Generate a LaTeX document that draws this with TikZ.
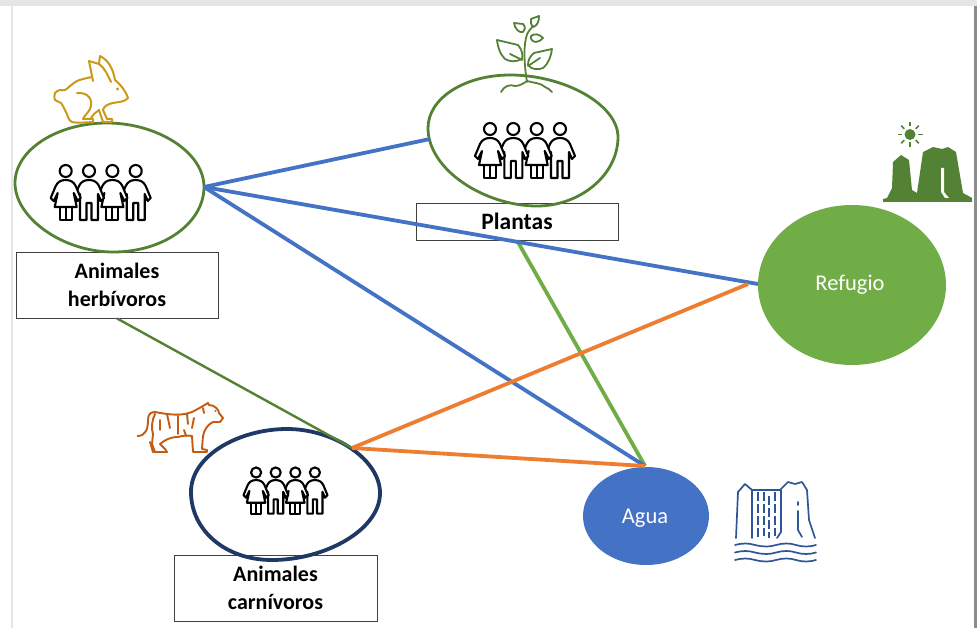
\documentclass[tikz,border=0pt]{standalone}
\usepackage{fontspec}
\setmainfont{Carlito}
\usetikzlibrary{shapes.geometric}
\definecolor{dgreen}{HTML}{548235}
\definecolor{lgreen}{HTML}{70AD47}
\definecolor{mblue}{HTML}{4472C4}
\definecolor{orng}{HTML}{ED7D31}
\definecolor{navy}{HTML}{1F3864}
\definecolor{gold}{HTML}{C99A1A}
\definecolor{tigc}{HTML}{C55A11}
\definecolor{wfall}{HTML}{2F5597}
\tikzset{
  x=1pt,y=-1pt,
  label box/.style={draw=black!75,line width=0.9pt,fill=white,minimum width=202pt,align=center,font=\fontsize{22}{28}\selectfont\bfseries,inner sep=0pt},
  disc/.style={ellipse,inner sep=0pt,text=white,font=\fontsize{22.5}{24}\selectfont},
  blob/.style={line width=2.8pt,draw=dgreen},
  link/.style={line width=3.8pt},
  person/.style={draw=black,line width=2.1pt,line join=round,fill=white},
  icon/.style={line width=2pt,line join=round,line cap=round},
  pics/crowd/.style={code={
    \foreach \k/\xx in {3/35,2/11.7,1/-11.7,0/-35}{
      \begin{scope}[xshift=\xx pt]
        \path[person] (0,0) circle[radius=6];
        \ifodd\k
          \path[person] (0,9) .. controls (5,9) and (8,11) .. (10,15) -- (15,27) -- (12,30) -- (9,23) -- (9,49) -- (2.5,49) -- (2.5,32) -- (-2.5,32) -- (-2.5,49) -- (-9,49) -- (-9,23) -- (-12,30) -- (-15,27) -- (-10,15) .. controls (-8,11) and (-5,9) .. (0,9) -- cycle;
        \else
          \path[person] (-6,36) -- (-6,49) -- (6,49) -- (6,36) -- cycle;
          \draw[person] (0,36) -- (0,49);
          \path[person] (0,9) .. controls (5,9) and (8,11) .. (10,15) -- (15,27) -- (12,30) -- (8,22) -- (11,36) -- (-11,36) -- (-8,22) -- (-12,30) -- (-15,27) -- (-10,15) .. controls (-8,11) and (-5,9) .. (0,9) -- cycle;
        \fi
      \end{scope}
    }
  }},
}
\begin{document}
\begin{tikzpicture}
\useasboundingbox (0,0) rectangle (977,628);
% page shadow
\fill[black!45] (974,0) rectangle (977,628);
\fill[black!10] (11,0) rectangle (13,628);
\fill[white] (0,0) rectangle (11,628);
\fill[black!10] (0,0) rectangle (977,6);

% anchor points of the hand-drawn shapes
\coordinate (herbE) at (204,187);
\coordinate (plantW) at (430,139);
\coordinate (carnNE) at (352,448);
\coordinate (refW) at (758,284);
\coordinate (refWo) at (748,284);
\coordinate (aguaN) at (645,466);

% label boxes
\node[label box,minimum height=66pt] (herbL) at (117,285) {Animales\\herbívoros};
\node[label box,minimum height=37pt,font=\fontsize{23.5}{28}\selectfont\bfseries] (plantL) at (517,221.5) {Plantas};
\node[label box,minimum height=66pt,minimum width=203pt] (carnL) at (275.5,588) {Animales\\carnívoros};

% filled discs
\node[disc,fill=lgreen,minimum width=188pt,minimum height=160pt] (ref) at (852,285) {};
\node[disc,fill=mblue,minimum width=126pt,minimum height=98pt] (agua) at (646,516) {};
\node[disc] (refT) at (850,285) {Refugio};
\node[disc] (aguaT) at (645,518) {Agua};

% hand-drawn outlines
\draw[blob] (15,183) .. controls (15,150) and (57,123) .. (107,123) .. controls (157,123) and (204,152) .. (204,187) .. controls (204,222) and (165,252) .. (113,252) .. controls (63,252) and (15,218) .. (15,183) -- cycle;
\draw[blob] (428,128) .. controls (428,98) and (465,75) .. (510,75) .. controls (565,75) and (618,105) .. (618,137) .. controls (618,175) and (580,206) .. (537,206) .. controls (485,206) and (428,170) .. (428,128) -- cycle;
\draw[line width=3.8pt,draw=navy] (191,492) .. controls (191,455) and (240,429) .. (287,429) .. controls (335,429) and (380,460) .. (380,493) .. controls (380,530) and (325,560) .. (272,560) .. controls (225,560) and (191,530) .. (191,492) -- cycle;

% crowds
\pic at (100.7,171) {crowd};
\pic at (525,129) {crowd};
\pic[scale=0.84] at (285.5,472.5) {crowd};

% connectors
\draw[line width=2.4pt,draw=dgreen] (herbL.south) -- (carnNE);
\draw[link,draw=lgreen] (plantL.south) -- (aguaN);
\draw[link,draw=mblue] (herbE) -- (plantW);
\draw[link,draw=mblue] (herbE) -- (refW);
\draw[link,draw=mblue] (herbE) -- (aguaN);
\draw[link,draw=orng] (carnNE) -- (refWo);
\draw[link,draw=orng] (carnNE) -- (aguaN);

% rabbit
\draw[icon,draw=gold] plot[smooth,tension=0.5] coordinates {(93,122) (72,122) (66,112) (61,103) (55,100) (55,93) (60,90) (65,90) (77,81) (92,77)};
\draw[icon,draw=gold] (93,81) -- (89,61) -- (99,64) .. controls (105,68) and (108,76) .. (111,82);
\draw[icon,draw=gold] (99,64) -- (100,56) .. controls (108,60) and (113,68) .. (115,80) .. controls (121,85) and (125,90) .. (128,98) .. controls (125,102) and (118,102) .. (113,103) .. controls (108,104) and (104,106) .. (103,110) -- (107,119) -- (112,119) -- (112,122) -- (103,122) -- (99,110) -- (94,114) -- (91,118);
\draw[icon,draw=gold] (77,93) .. controls (88,92) and (94,100) .. (90,109) .. controls (88,113) and (84,116) .. (83,119) -- (93,119) -- (93,122);
\fill[gold] (117.5,89) circle[radius=1.6];

% plant
\begin{scope}[icon,draw=dgreen,line width=1.8pt]
\draw (527,82) .. controls (525,70) and (523,50) .. (526,38) .. controls (527,32) and (530,30) .. (533,26);
\draw (497,40) -- (518,45) .. controls (522,50) and (523,54) .. (522,59) .. controls (516,62) and (510,62) .. (505,59) .. controls (500,54) and (498,48) .. (497,40) -- cycle;
\draw (552,49) -- (534,53) .. controls (530,56) and (528,60) .. (528,65) .. controls (532,70) and (538,70) .. (543,68) .. controls (549,63) and (551,56) .. (552,49) -- cycle;
\draw (539,16) -- (531,19) .. controls (530,22) and (531,25) .. (533,27) .. controls (537,26) and (539,22) .. (539,16) -- cycle;
\draw (514,23) -- (523,24) .. controls (526,27) and (525,30) .. (523,32) .. controls (519,33) and (515,29) .. (514,23) -- cycle;
\draw (543,38) .. controls (539,34) and (535,33) .. (531,36) .. controls (530,38) and (532,42) .. (536,42) .. controls (539,42) and (541,40) .. (543,38) -- cycle;
\draw (510,54) -- (522,60);
\draw (528,66) -- (540,58);
\draw (501,92) .. controls (504,86) and (510,84) .. (515,86) .. controls (520,86) and (524,83) .. (527,81) .. controls (534,83) and (541,83) .. (545,87) .. controls (548,88) and (550,90) .. (552,92);
\end{scope}

% tiger
\begin{scope}[icon,draw=tigc,line width=1.9pt]
\draw (137.5,436) .. controls (145,436) and (148,430) .. (148,420) .. controls (148,414) and (151,412) .. (155,412) .. controls (170,415) and (182,416) .. (192,412) .. controls (198,409) and (203,406) .. (208,403) -- (209,405) .. controls (215,405) and (219,410) .. (219,413) -- (223,418) -- (220,422) -- (213,422) .. controls (208,424) and (204,430) .. (203,436) -- (202,449) -- (207,450) -- (207,452) -- (193,452) -- (192,436) .. controls (186,435) and (182,436) .. (178,437) .. controls (170,437) and (165,440) .. (160,444) -- (165,449) -- (167,452) -- (155,452) -- (152,444) -- (153,434) .. controls (151,428) and (152,420) .. (155,414);
\draw (150,442) -- (153,452) -- (155,452);
\draw (160,420) -- (160,430) (167,414) -- (170,428) (178,416) -- (178,434) (187,414) -- (188,424) (194,418) -- (192,428) (203,408) -- (204,413) (184,430) -- (186,436);
\end{scope}
\fill[tigc] (215.5,411) circle[radius=1.2];

% waterfall
\begin{scope}[icon,draw=wfall,line width=1.7pt]
\draw (736,538) -- (738,492) -- (745,484) -- (752,490) -- (780,490) -- (788,482) -- (795,484) -- (802,482) -- (807,490) -- (809,520) -- (815,538);
\draw (752,490) -- (752,538);
\draw (781,490) -- (781,532) -- (777,538);
\draw[dash pattern=on 9pt off 3pt,line cap=butt] (758,492) -- (758,538) (764,492) -- (764,536) (769,496) -- (769,538) (775,492) -- (775,536);
\draw (798,502) -- (798,505) (798,511) -- (798,530) -- (802,537);
\foreach \yy in {545,552.5,560}
  \draw (735,\yy) .. controls (743,\yy-2) and (748,\yy-2) .. (755,\yy) .. controls (763,\yy+2) and (770,\yy+2) .. (776,\yy) .. controls (783,\yy-2) and (790,\yy-2) .. (796,\yy) .. controls (802,\yy+2) and (810,\yy+2) .. (816,\yy);
\end{scope}

% mesa and sun
\fill[dgreen] (883,202) -- (972,202) -- (972,198) -- (963,193) -- (956,152) -- (948,147) -- (942,149) -- (933,147) -- (923,152) -- (917,193) -- (912,190) -- (909,160) -- (901,155) -- (893,162) -- (892,188) -- (887,198) -- (883,199) -- cycle;
\fill[white] (941,168) -- (944,168) -- (944,192) -- (949,198) -- (945,198) -- (941,192) -- cycle;
\fill[dgreen] (910,134.5) circle[radius=5.5];
\foreach \a in {0,45,...,315}
  \draw[dgreen,line width=1.6pt] (910,134.5) ++(\a:8) -- ++(\a:4.5);
\end{tikzpicture}
\end{document}
